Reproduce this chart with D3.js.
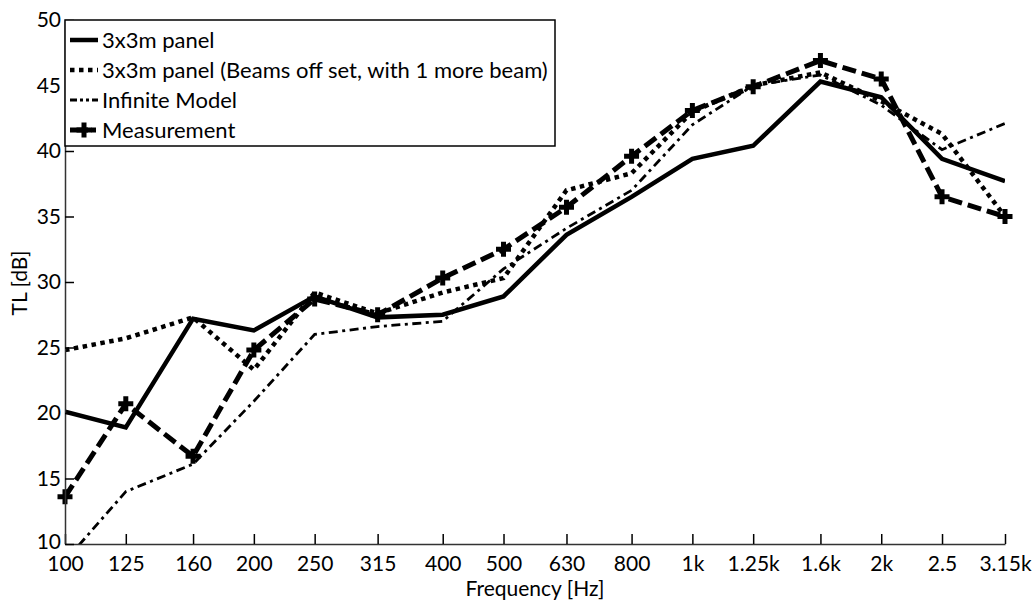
<!DOCTYPE html>
<html>
<head>
<meta charset="utf-8">
<script src="https://cdn.jsdelivr.net/npm/d3@7"></script>
<style>
  html, body { margin: 0; padding: 0; background: #fff; }
  svg { display: block; font-family: Lato, "Open Sans", sans-serif; }
</style>
</head>
<body>
<svg id="chart" width="1034" height="601"></svg>
<script>
// One-third-octave band centre frequencies and their axis labels
const freqs = [100, 125, 160, 200, 250, 315, 400, 500, 630, 800, 1000, 1250, 1600, 2000, 2500, 3150];
const freqLabels = ["100", "125", "160", "200", "250", "315", "400", "500", "630", "800", "1k", "1.25k", "1.6k", "2k", "2.5", "3.15k"];
const yTicks = [10, 15, 20, 25, 30, 35, 40, 45, 50];

// Transmission loss, dB
const panel3x3 = [20.1, 18.9, 27.2, 26.3, 28.9, 27.3, 27.5, 28.9, 33.6, 36.5, 39.4, 40.4, 45.3, 44.1, 39.4, 37.7];
const panelOffset = [24.8, 25.7, 27.3, 23.3, 29.2, 27.6, 29.2, 30.3, 37.0, 38.3, 43.0, 45.0, 46.0, 43.8, 41.3, 35.0];
const infiniteModel = [8.7, 14.0, 16.1, 20.9, 26.0, 26.6, 27.0, 31.0, 34.1, 37.0, 42.0, 45.0, 45.8, 43.5, 40.1, 42.1];
const measurement = [13.6, 20.7, 16.7, 24.8, 28.7, 27.5, 30.3, 32.5, 35.7, 39.6, 43.1, 44.9, 46.9, 45.5, 36.5, 35.0];

const seriesNames = ["3x3m panel", "3x3m panel (Beams off set, with 1 more beam)", "Infinite Model", "Measurement"];

const svg = d3.select("#chart");
const plotLeft = 65, plotRight = 1005, plotTop = 20, plotBottom = 544;
const fontSize = "21px";

const x = d3.scaleLog().domain([100, 3150]).range([plotLeft, plotRight]);
const y = d3.scaleLinear().domain([10, 50]).range([plotBottom, plotTop]);

const styles = [
  { width: 4.5, dash: null },
  { width: 4.5, dash: "4.5,4.5" },
  { width: 2.8, dash: "9,4.5,3,4.5" },
  { width: 5, dash: "14,6", marker: true }
];
const seriesData = [panel3x3, panelOffset, infiniteModel, measurement];

svg.append("defs").append("clipPath").attr("id", "plotClip")
  .append("rect").attr("x", plotLeft).attr("y", plotTop)
  .attr("width", plotRight - plotLeft).attr("height", plotBottom - plotTop);

const line = d3.line().x((d, i) => x(freqs[i])).y(d => y(d));

const plot = svg.append("g");
seriesData.forEach((vals, k) => {
  const s = styles[k];
  plot.append("path")
    .datum(vals)
    .attr("d", line)
    .attr("clip-path", "url(#plotClip)")
    .attr("fill", "none")
    .attr("stroke", "#000")
    .attr("stroke-width", s.width)
    .attr("stroke-linejoin", "miter")
    .attr("stroke-dasharray", s.dash);
});

// Plus markers on the measured curve
const plusPath = "M-7.5,0H7.5M0,-7.5V7.5";
plot.selectAll("path.marker")
  .data(measurement)
  .join("path")
  .attr("class", "marker")
  .attr("transform", (d, i) => `translate(${x(freqs[i])},${y(d)})`)
  .attr("d", plusPath)
  .attr("fill", "none")
  .attr("stroke", "#000")
  .attr("stroke-width", 5);

// Axes
const xAxis = d3.axisBottom(x)
  .tickValues(freqs)
  .tickFormat((d, i) => freqLabels[i])
  .tickSizeInner(-10)
  .tickSizeOuter(0);
const gx = svg.append("g").attr("transform", `translate(0,${plotBottom})`).call(xAxis);

const yAxis = d3.axisLeft(y)
  .tickValues(yTicks)
  .tickSizeInner(-9)
  .tickSizeOuter(0);
const gy = svg.append("g").attr("transform", `translate(${plotLeft},0)`).call(yAxis);

[gx, gy].forEach(g => {
  g.select(".domain").attr("stroke", "#333").attr("stroke-width", 1.5);
  g.selectAll(".tick line").attr("stroke", "#000").attr("stroke-width", 1.5);
  g.selectAll(".tick text").attr("fill", "#000").style("font-size", fontSize).style("font-family", "Lato, sans-serif");
});
gx.selectAll(".tick text").attr("dy", "0.71em").attr("y", 12);
gy.selectAll(".tick text").attr("x", -4);
// nudge the lowest y label up so it clears the first frequency label
gy.selectAll(".tick text").filter(d => d === 10).attr("dy", "0.2em");

// Axis titles
svg.append("text")
  .attr("x", (plotLeft + plotRight) / 2)
  .attr("y", 596)
  .attr("text-anchor", "middle")
  .style("font-size", fontSize)
  .text("Frequency [Hz]");

svg.append("text")
  .attr("transform", `translate(27,283) rotate(-90)`)
  .attr("text-anchor", "middle")
  .style("font-size", fontSize)
  .text("TL [dB]");

// Legend
const legend = svg.append("g");
legend.append("rect")
  .attr("x", plotLeft).attr("y", plotTop)
  .attr("width", 490).attr("height", 126)
  .attr("fill", "#fff")
  .attr("stroke", "#000")
  .attr("stroke-width", 1.5);

seriesNames.forEach((name, k) => {
  const s = styles[k];
  const cy = plotTop + 20 + k * 30;
  const row = legend.append("g");
  row.append("line")
    .attr("x1", 70).attr("x2", 98)
    .attr("y1", cy).attr("y2", cy)
    .attr("stroke", "#000")
    .attr("stroke-width", s.width)
    .attr("stroke-dasharray", k === 3 ? "18,3,5,3" : (k === 2 ? "7,3,3,3,3,3" : s.dash));
  if (s.marker) {
    row.append("path")
      .attr("transform", `translate(84,${cy})`)
      .attr("d", plusPath)
      .attr("fill", "none")
      .attr("stroke", "#000")
      .attr("stroke-width", 5);
  }
  row.append("text")
    .attr("x", 102)
    .attr("y", cy)
    .attr("dy", "0.35em")
    .style("font-size", "22px")
    .text(name);
});
</script>
</body>
</html>
